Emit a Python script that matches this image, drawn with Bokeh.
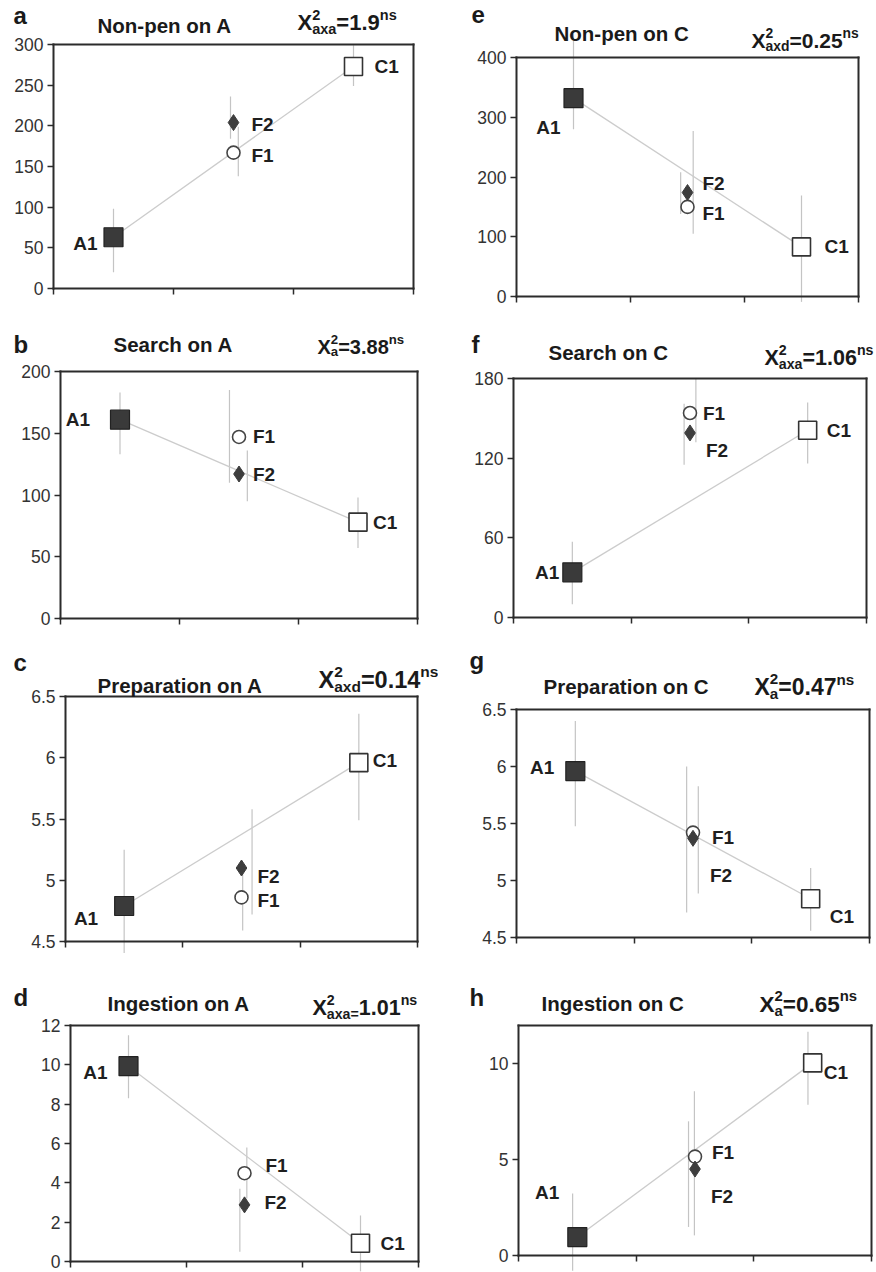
from bokeh.plotting import figure
from bokeh.models import (Range1d, FixedTicker, Label, Whisker, ColumnDataSource,
                          NumeralTickFormatter, LinearAxis)
from bokeh.layouts import column, row
from bokeh.embed import file_html
from bokeh.resources import INLINE
from bokeh.core.properties import value

# ---------------- data ----------------
groups = ["A1", "F1", "F2", "C1"]
group_x = [0.5, 1.5, 1.5, 2.5]

a_mean = [63, 167, 204, 273]
a_low = [20, 138, 184, 249]
a_high = [98, 199, 236, 299]
a_errx = [0.5, 1.54, 1.475, 2.5]

b_mean = [161, 147, 117, 78]
b_low = [133, 110, 95, 57]
b_high = [183, 185, 136, 98]
b_errx = [0.5, 1.42, 1.57, 2.5]

c_mean = [4.79, 4.86, 5.10, 5.96]
c_low = [4.37, 4.59, 4.72, 5.49]
c_high = [5.25, 5.12, 5.58, 6.36]
c_errx = [0.5, 1.51, 1.59, 2.5]

d_mean = [9.93, 4.49, 2.88, 0.93]
d_low = [8.3, 3.2, 0.5, -0.5]
d_high = [11.5, 5.8, 3.7, 2.34]
d_errx = [0.5, 1.52, 1.46, 2.5]

e_mean = [332, 150, 174, 83]
e_low = [280, 105, 138, -9]
e_high = [439, 277, 208, 169]
e_errx = [0.5, 1.55, 1.44, 2.5]

f_mean = [34, 154, 139, 141]
f_low = [10, 132, 115, 116]
f_high = [57, 180, 161, 162]
f_errx = [0.5, 1.55, 1.45, 2.5]

g_mean = [5.96, 5.42, 5.37, 4.84]
g_low = [5.475, 4.72, 4.885, 4.56]
g_high = [6.40, 6.00, 5.826, 5.11]
g_errx = [0.5, 1.446, 1.545, 2.5]

h_mean = [0.96, 5.16, 4.51, 10.05]
h_low = [-0.8, 1.05, 1.49, 7.87]
h_high = [3.23, 8.57, 7.00, 11.68]
h_errx = [0.46, 1.495, 1.445, 2.46]

titles = {"a": "Non-pen on A", "b": "Search on A", "c": "Preparation on  A", "d": "Ingestion on A",
          "e": "Non-pen on C", "f": "Search on C", "g": "Preparation on C", "h": "Ingestion on C"}

chi = {"a": [("X", "2", "axa"), ("=1.9", "ns", None)],
       "b": [("X", "2", "a"), ("=3.88", "ns", None)],
       "c": [("X", "2", "axd"), ("=0.14", "ns", None)],
       "d": [("X", "2", "axa="), ("1.01", "ns", None)],
       "e": [("X", "2", "axd"), ("=0.25", "ns", None)],
       "f": [("X", "2", "axa"), ("=1.06", "ns", None)],
       "g": [("X", "2", "a"), ("=0.47", " ns", None)],
       "h": [("X", "2", "a"), ("=0.65", " ns", None)]}

y_ranges = {"a": (0, 300), "b": (0, 200), "c": (4.5, 6.5), "d": (0, 12),
            "e": (0, 400), "f": (0, 180), "g": (4.5, 6.5), "h": (0, 12)}
y_ticks = {"a": [0, 50, 100, 150, 200, 250, 300], "b": [0, 50, 100, 150, 200],
           "c": [4.5, 5, 5.5, 6, 6.5], "d": [0, 2, 4, 6, 8, 10, 12],
           "e": [0, 100, 200, 300, 400], "f": [0, 60, 120, 180],
           "g": [4.5, 5, 5.5, 6, 6.5], "h": [0, 5, 10]}
x_ticks = [0, 1, 2, 3]

data = {"a": (a_mean, a_low, a_high, a_errx), "b": (b_mean, b_low, b_high, b_errx),
        "c": (c_mean, c_low, c_high, c_errx), "d": (d_mean, d_low, d_high, d_errx),
        "e": (e_mean, e_low, e_high, e_errx), "f": (f_mean, f_low, f_high, f_errx),
        "g": (g_mean, g_low, g_high, g_errx), "h": (h_mean, h_low, h_high, h_errx)}

# ---------------- layout / style ----------------
FONT = "Liberation Sans"
INK = "#2b2b2b"
COLS = {"L": (0, 438), "R": (438, 876)}
ROWS = [(0, 310), (310, 628), (628, 953), (953, 1272)]
# plot box rectangles (left, right, top, bottom) in page pixels
FRAMES = {"a": (53, 413, 44, 288), "b": (60, 417, 371, 618), "c": (65, 417, 696, 941),
          "d": (70, 418, 1025, 1261), "e": (516, 858, 57, 296), "f": (513, 866, 378, 617),
          "g": (516, 869, 709, 937), "h": (518, 871, 1025, 1255)}
# (x of left edge, y of baseline)
LETTER_POS = {"a": (13, 23), "e": (471, 22), "b": (13, 352), "f": (471, 352),
              "c": (13, 670), "g": (469, 668), "d": (13, 1005), "h": (469, 1005)}
TITLE_POS = {"a": (97, 32), "e": (554, 40), "b": (113, 351), "f": (548, 359),
             "c": (97, 692), "g": (543, 693), "d": (107, 1010), "h": (541, 1010)}
CHI_POS = {"a": (297, 30), "e": (751, 47), "b": (317, 353), "f": (764, 365),
           "c": (318, 688), "g": (754, 695), "d": (312, 1015), "h": (759, 1012)}
CHI_SIZE = {"a": 22, "b": 20, "c": 23.5, "d": 21.5, "e": 21, "f": 21.5, "g": 23, "h": 22.5}
LBL_OFF = {
    "a": {"A1": (-16, 6, "right"), "F1": (18, 3, "left"), "F2": (18, 2, "left"), "C1": (21, 0, "left")},
    "b": {"A1": (-30, 0, "right"), "F1": (14, 0, "left"), "F2": (14, 0, "left"), "C1": (15, 0, "left")},
    "c": {"A1": (-26, 13, "right"), "F1": (16, 3, "left"), "F2": (16, 8, "left"), "C1": (14, -2, "left")},
    "d": {"A1": (-21, 6, "right"), "F1": (21, -8, "left"), "F2": (20, -2, "left"), "C1": (20, 0, "left")},
    "e": {"A1": (-13, 29, "right"), "F1": (15, 7, "left"), "F2": (15, -9, "left"), "C1": (23, 0, "left")},
    "f": {"A1": (-13, 0, "right"), "F1": (13, 0, "left"), "F2": (16, 18, "left"), "C1": (19, 0, "left")},
    "g": {"A1": (-21, -4, "right"), "F1": (19, 5, "left"), "F2": (17, 37, "left"), "C1": (19, 18, "left")},
    "h": {"A1": (-18, -45, "right"), "F1": (17, -4, "left"), "F2": (16, 27, "left"), "C1": (11, 10, "left")},
}

BOLD_W = {'X': 667, '2': 556, 'a': 556, 'x': 556, 'd': 611, '=': 584, '.': 278,
          'n': 611, 's': 556, ' ': 278}


def bw(s, size):
    return sum(BOLD_W.get(ch, 556) for ch in s) / 1000.0 * size


def style_axis(ax, ticks_on=True, labels_on=False):
    ax.axis_line_color = INK
    ax.axis_line_width = 2
    ax.axis_line_cap = "square"
    ax.minor_tick_line_color = None
    if ticks_on:
        ax.major_tick_line_color = INK
        ax.major_tick_line_width = 1.5
        ax.major_tick_out = 6
        ax.major_tick_in = 0
    else:
        ax.major_tick_line_color = None
    if labels_on:
        ax.major_label_text_font = FONT
        ax.major_label_text_font_size = "17.5px"
        ax.major_label_text_color = "#333333"
        ax.major_label_standoff = 4
    else:
        ax.major_label_text_font_size = "0px"
        ax.major_label_text_color = None


def make_panel(key, col, ri):
    L, R, T, B = FRAMES[key]
    c0, c1 = COLS[col]
    r0, r1 = ROWS[ri]
    y0, y1 = y_ranges[key]
    kx = 3.0 / (R - L)
    ky = (y1 - y0) / float(B - T)
    xr = Range1d(0 - (L - c0) * kx, 3 + (c1 - R) * kx)
    yr = Range1d(y0 - (r1 - B) * ky, y1 + (T - r0) * ky)
    p = figure(width=c1 - c0, height=r1 - r0, x_range=xr, y_range=yr,
               toolbar_location=None, output_backend="svg", title=None,
               min_border_left=0, min_border_right=0, min_border_top=0, min_border_bottom=0)
    p.background_fill_color = "white"
    p.border_fill_color = "white"
    p.outline_line_color = None
    p.xgrid.visible = False
    p.ygrid.visible = False

    # native axes pinned to the plot box
    xa = p.xaxis[0]
    xa.fixed_location = y0
    xa.bounds = (0, 3)
    xa.ticker = FixedTicker(ticks=x_ticks)
    style_axis(xa, ticks_on=True, labels_on=False)

    ya = p.yaxis[0]
    ya.fixed_location = 0
    ya.bounds = (y0, y1)
    ya.ticker = FixedTicker(ticks=y_ticks[key])
    ya.formatter = NumeralTickFormatter(format="0.[0]")
    style_axis(ya, ticks_on=True, labels_on=True)

    top = LinearAxis(fixed_location=y1, bounds=(0, 3))
    style_axis(top, ticks_on=False)
    p.add_layout(top, "above")
    right = LinearAxis(fixed_location=3, bounds=(y0, y1))
    style_axis(right, ticks_on=False)
    p.add_layout(right, "right")

    mean, low, high, errx = data[key]
    src = ColumnDataSource(dict(x=errx, lo=low, hi=high))
    p.add_layout(Whisker(source=src, base="x", lower="lo", upper="hi", dimension="height",
                         line_color="#c4c4c4", line_width=1.2, upper_head=None, lower_head=None))

    p.line([group_x[0], group_x[3]], [mean[0], mean[3]], line_color="#cccccc", line_width=1.3)

    p.scatter([group_x[3]], [mean[3]], marker="square", size=18, fill_color="white",
              line_color="#333333", line_width=1.6)
    p.scatter([group_x[1]], [mean[1]], marker="circle", size=13, fill_color="white",
              line_color="#444444", line_width=1.6)
    p.scatter([group_x[2]], [mean[2]], marker="diamond", size=16, fill_color="#3d3d3d",
              line_color="#3d3d3d", line_width=1)
    p.scatter([group_x[0]], [mean[0]], marker="square", size=19, fill_color="#3a3a3a",
              line_color="#222222", line_width=1.2)

    for i, g in enumerate(groups):
        dx, dy, al = LBL_OFF[key][g]
        p.text([group_x[i]], [mean[i]], text=[g], x_offset=dx, y_offset=dy,
               text_align=al, text_baseline="middle", text_font=value(FONT),
               text_font_style="bold", text_font_size="19px", text_color="#1f1f1f")

    def add_text(x, y_base, text, size):
        yc = y_base - 0.35 * size
        p.add_layout(Label(x=x - c0, y=r1 - yc, x_units="screen", y_units="screen", text=text,
                           text_font=FONT, text_font_size=f"{size}px", text_font_style="bold",
                           text_align="left", text_baseline="middle", text_color="#1a1a1a"))

    lx, ly = LETTER_POS[key]
    add_text(lx, ly, key, 24)
    tx, ty = TITLE_POS[key]
    add_text(tx, ty, titles[key], 20.5)
    cx, cy = CHI_POS[key]
    big = CHI_SIZE[key]
    small = round(big * 0.66, 1)
    for base, sup, sub in chi[key]:
        add_text(cx, cy, base, big)
        cx += bw(base, big)
        adv = 0
        if sup:
            add_text(cx, cy - 0.48 * big, sup, small)
            adv = max(adv, bw(sup, small))
        if sub:
            add_text(cx, cy + 0.15 * big, sub, small)
            adv = max(adv, bw(sub, small))
        cx += adv
    return p


layout = column(
    row(make_panel("a", "L", 0), make_panel("e", "R", 0)),
    row(make_panel("b", "L", 1), make_panel("f", "R", 1)),
    row(make_panel("c", "L", 2), make_panel("g", "R", 2)),
    row(make_panel("d", "L", 3), make_panel("h", "R", 3)),
)

open("out.html", "w").write(file_html(layout, INLINE))
